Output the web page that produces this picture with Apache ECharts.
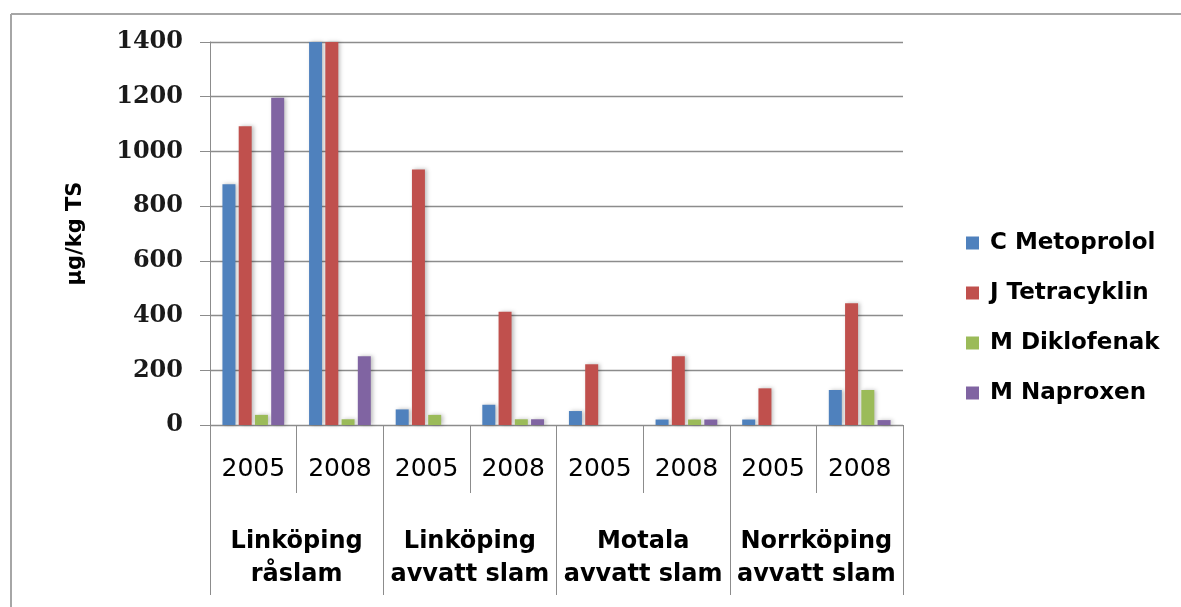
<!DOCTYPE html>
<html>
<head>
<meta charset="utf-8">
<script src="https://cdn.jsdelivr.net/npm/echarts@6/dist/echarts.min.js"></script>
<style>html,body{margin:0;padding:0;background:#fff;overflow:hidden}#c{width:1181px;height:607px}</style>
</head>
<body>
<div id="c"></div>
<script>
const years = ['2005', '2008', '2005', '2008', '2005', '2008', '2005', '2008'];
const groups = ['Linköping\nråslam', 'Linköping\navvatt slam', 'Motala\navvatt slam', 'Norrköping\navvatt slam'];
const seriesNames = ['C Metoprolol', 'J Tetracyklin', 'M Diklofenak', 'M Naproxen'];
const metoprolol = [880, 1400, 57, 74, 51, 20, 20, 128];
const tetracyklin = [1092, 1400, 934, 414, 222, 251, 134, 445];
const diklofenak = [37, 21, 37, 21, null, 20, null, 128];
const naproxen = [1196, 251, null, 21, null, 20, null, 18];
const yTicks = { min: 0, max: 1400, interval: 200 };
const colors = ['#4F81BD', '#C0504D', '#9BBB59', '#8064A2'];
const yName = 'µg/kg TS';

const values = [metoprolol, tetracyklin, diklofenak, naproxen];
const gray = '#8c8c8c';
const borderStyle = { stroke: '#a6a6a6', lineWidth: 2 };

const chart = echarts.init(document.getElementById('c'));
chart.setOption({
  animation: false,
  color: colors,
  graphic: [
    { type: 'line', silent: true, shape: { x1: 11, y1: 14, x2: 1181, y2: 14 }, style: borderStyle },
    { type: 'line', silent: true, shape: { x1: 11, y1: 14, x2: 11, y2: 607 }, style: borderStyle }
  ],
  grid: { left: 210, right: 278, top: 42, bottom: 182, containLabel: false },
  legend: {
    orient: 'vertical', left: 961, top: 225,
    itemWidth: 13, itemHeight: 13, itemGap: 24,
    icon: 'rect',
    textStyle: { fontFamily: 'DejaVu Sans', fontWeight: 'bold', fontSize: 23, color: '#000', lineHeight: 26, padding: [0, 0, 0, 6] },
    data: seriesNames
  },
  xAxis: [{
    type: 'category', data: years, position: 'bottom',
    axisLine: { show: true, lineStyle: { color: gray, width: 1 } },
    axisTick: { show: true, interval: 0, length: 68, lineStyle: { color: gray } },
    axisLabel: { interval: 0, margin: 32, fontFamily: 'DejaVu Sans', fontSize: 25, color: '#000' }
  }, {
    type: 'category', data: groups, position: 'bottom', offset: 0,
    axisLine: { show: false },
    axisTick: { show: true, interval: 0, length: 170, lineStyle: { color: gray } },
    axisLabel: { interval: 0, margin: 100, fontFamily: 'DejaVu Sans', fontWeight: 'bold', fontSize: 24, lineHeight: 33, color: '#000' }
  }],
  yAxis: {
    type: 'value', min: yTicks.min, max: yTicks.max, interval: yTicks.interval,
    name: yName, nameLocation: 'middle', nameGap: 124, nameRotate: 90,
    nameTextStyle: { fontFamily: 'DejaVu Sans', fontWeight: 'bold', fontSize: 21, color: '#000' },
    axisLine: { show: true, lineStyle: { color: gray, width: 1 } },
    axisTick: { show: true, length: 10, lineStyle: { color: gray } },
    axisLabel: { margin: 27, fontFamily: 'DejaVu Serif', fontWeight: 'bold', fontSize: 24, color: '#1a1a1a', formatter: v => String(v) },
    splitLine: { show: true, lineStyle: { color: gray, width: 1.3 } }
  },
  series: seriesNames.map((n, i) => ({
    name: n, type: 'bar', xAxisIndex: 0, data: values[i],
    barWidth: 13, barGap: '25%',
    itemStyle: { color: colors[i], shadowColor: 'rgba(0,0,0,0.25)', shadowBlur: 4, shadowOffsetX: 2, shadowOffsetY: 0 }
  }))
});
</script>
</body>
</html>
